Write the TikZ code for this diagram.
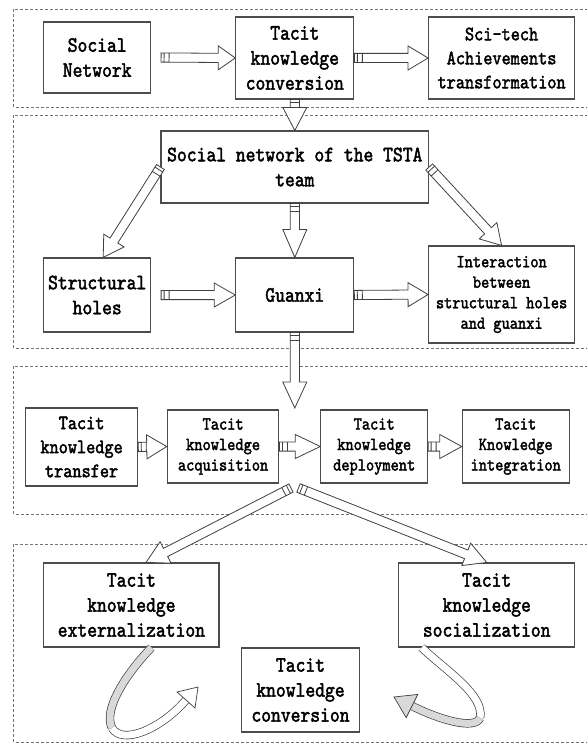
\documentclass[tikz,border=0pt]{standalone}
\usepackage{fontspec}
\setmainfont{lmmono10-regular.otf}[FakeStretch=0.85,FakeBold=2]
\usetikzlibrary{calc}
\newcommand{\bigtext}{\fontsize{22}{25}\selectfont}
\newcommand{\midtext}{\fontsize{20.5}{24}\selectfont}
\newcommand{\smalltext}{\fontsize{18.4}{20.5}\selectfont}
\newcommand{\shaftw}{4.6pt}
\newcommand{\headw}{12pt}
% hollow block arrow with a small plug at its tail
\tikzset{fat/.style={draw=black!75,line width=0.8pt,fill=white,to path={
  ($(\tikztostart)!\shaftw!90:(\tikztotarget)$) -- ($(\tikztostart)!\shaftw!-90:(\tikztotarget)$)
  ($(\tikztostart)!3pt!(\tikztotarget)!\shaftw!90:(\tikztotarget)$) -- ($(\tikztostart)!3pt!(\tikztotarget)!\shaftw!-90:(\tikztotarget)$)
  ($(\tikztostart)!8pt!(\tikztotarget)!\shaftw!90:(\tikztotarget)$) -- ($(\tikztostart)!8pt!(\tikztotarget)!\shaftw!-90:(\tikztotarget)$)
  ($(\tikztostart)!\shaftw!90:(\tikztotarget)$)
  -- ($(\tikztotarget)!#1!(\tikztostart)!\shaftw!-90:(\tikztostart)$)
  -- ($(\tikztotarget)!#1!(\tikztostart)!\headw!-90:(\tikztostart)$)
  -- (\tikztotarget)
  -- ($(\tikztotarget)!#1!(\tikztostart)!\headw!90:(\tikztostart)$)
  -- ($(\tikztotarget)!#1!(\tikztostart)!\shaftw!90:(\tikztostart)$)
  -- ($(\tikztostart)!\shaftw!-90:(\tikztotarget)$) -- cycle}},
  fat/.default=20pt}

\begin{document}
\begin{tikzpicture}[x=1pt,y=-1pt]
\tikzstyle{box}=[draw=black!70,line width=1.1pt,fill=white,align=center,inner sep=0pt]
\tikzstyle{bigbox}=[box,font=\bigtext]
\tikzstyle{midbox}=[box,font=\midtext]
\tikzstyle{smallbox}=[box,font=\smalltext]
\tikzstyle{frame}=[draw=black!55,line width=0.9pt,dash pattern=on 3pt off 2pt]
\tikzstyle{ribbon}=[draw=black!75,line width=0.7pt,double distance=7pt]

\useasboundingbox (0,0) rectangle (587,746);
\clip (0,0) rectangle (587,746);

% dashed frames
\draw[frame] (13.5,9) rectangle (600,107);
\draw[frame] (13.5,115) rectangle (600,348);
\draw[frame] (13.5,366) rectangle (600,514);
\draw[frame] (13.5,544) rectangle (600,742);

% nodes
\node[bigbox,minimum width=106.7pt,minimum height=71pt] (sn) at (97.2,57.5) {Social\\Network};
\node[bigbox,minimum width=118pt,minimum height=82pt] (tkc) at (294.8,58) {Tacit\\knowledge\\conversion};
\node[midbox,minimum width=146pt,minimum height=82pt] (sta) at (501.6,58) {Sci-tech\\Achievements\\transformation};
\node[bigbox,minimum width=267.6pt,minimum height=72pt] (tsta) at (294.8,167) {Social network of the TSTA\\team};
\node[bigbox,minimum width=106.7pt,minimum height=74pt] (sh) at (97.2,295) {Structural\\holes};
\node[bigbox,minimum width=118pt,minimum height=74pt] (gx) at (294.8,295) {Guanxi};
\node[smallbox,minimum width=146pt,minimum height=97pt] (inter) at (501.6,294.5) {Interaction\\between\\structural holes\\and guanxi};
\node[midbox,minimum width=112.3pt,minimum height=78pt] (tr) at (81.6,447) {Tacit\\knowledge\\transfer};
\node[smallbox,minimum width=111.6pt,minimum height=73pt] (acq) at (223.1,446.5) {Tacit\\knowledge\\acquisition};
\node[smallbox,minimum width=106.7pt,minimum height=73pt] (dep) at (374.2,446.5) {Tacit\\knowledge\\deployment};
\node[smallbox,minimum width=106.7pt,minimum height=73pt] (integ) at (515.7,446.5) {Tacit\\Knowledge\\integration};
\node[bigbox,minimum width=175.2pt,minimum height=84pt] (ext) at (131.4,605) {Tacit\\knowledge\\externalization};
\node[bigbox,minimum width=175.9pt,minimum height=84pt] (soc) at (486.7,605) {Tacit\\knowledge\\socialization};
\node[bigbox,minimum width=118pt,minimum height=84pt] (conv) at (300.5,690) {Tacit\\knowledge\\conversion};

% arrow ends
\coordinate (sn-o) at ([xshift=10pt]sn.east);
\coordinate (sh-o) at ([xshift=10pt]sh.east);
\coordinate (sh-i) at ([xshift=6pt]sh.north);
\coordinate (ext-i) at ([xshift=14.6pt]ext.north);
\coordinate (drop) at (294.8,408);
\coordinate (forkl) at (291,488);
\coordinate (forkr) at (298.5,488);

% block arrows
\foreach \from/\to/\len in {sn-o/tkc.west/17pt, tkc.east/sta.west/20pt,
  tkc.south/tsta.north/23pt, tsta.west/sh-i/20pt, tsta.east/inter.north/20pt,
  tsta.south/gx.north/28pt, sh-o/gx.west/21pt, gx.east/inter.west/20pt,
  gx.south/drop/26pt, tr.east/acq.west/20pt, acq.east/dep.west/25pt,
  dep.east/integ.west/22pt, forkl/ext-i/22pt, forkr/soc.north/22pt}
\draw[fat=\len] (\from) to (\to);

% twisted arrows
\draw[ribbon,double=black!15] ([xshift=20pt]ext.south) .. controls (125,675) and (103,710) .. (112,728);
\draw[ribbon,double=white] (112,728) .. controls (122,745) and (160,730) .. (186,700);
\draw[draw=black!75,line width=0.7pt,fill=white] (195,708) -- (198,687) -- (177,692) -- cycle;
\draw[ribbon,double=white] ([xshift=-65pt]soc.south) .. controls (445,670) and (485,695) .. (480,718);
\draw[ribbon,double=black!15] (480,718) .. controls (475,730) and (440,720) .. (412,706);
\draw[draw=black!75,line width=0.7pt,fill=black!15] (417.8,694.4) -- (394,697) -- (406.2,717.6) -- cycle;
\end{tikzpicture}
\end{document}
